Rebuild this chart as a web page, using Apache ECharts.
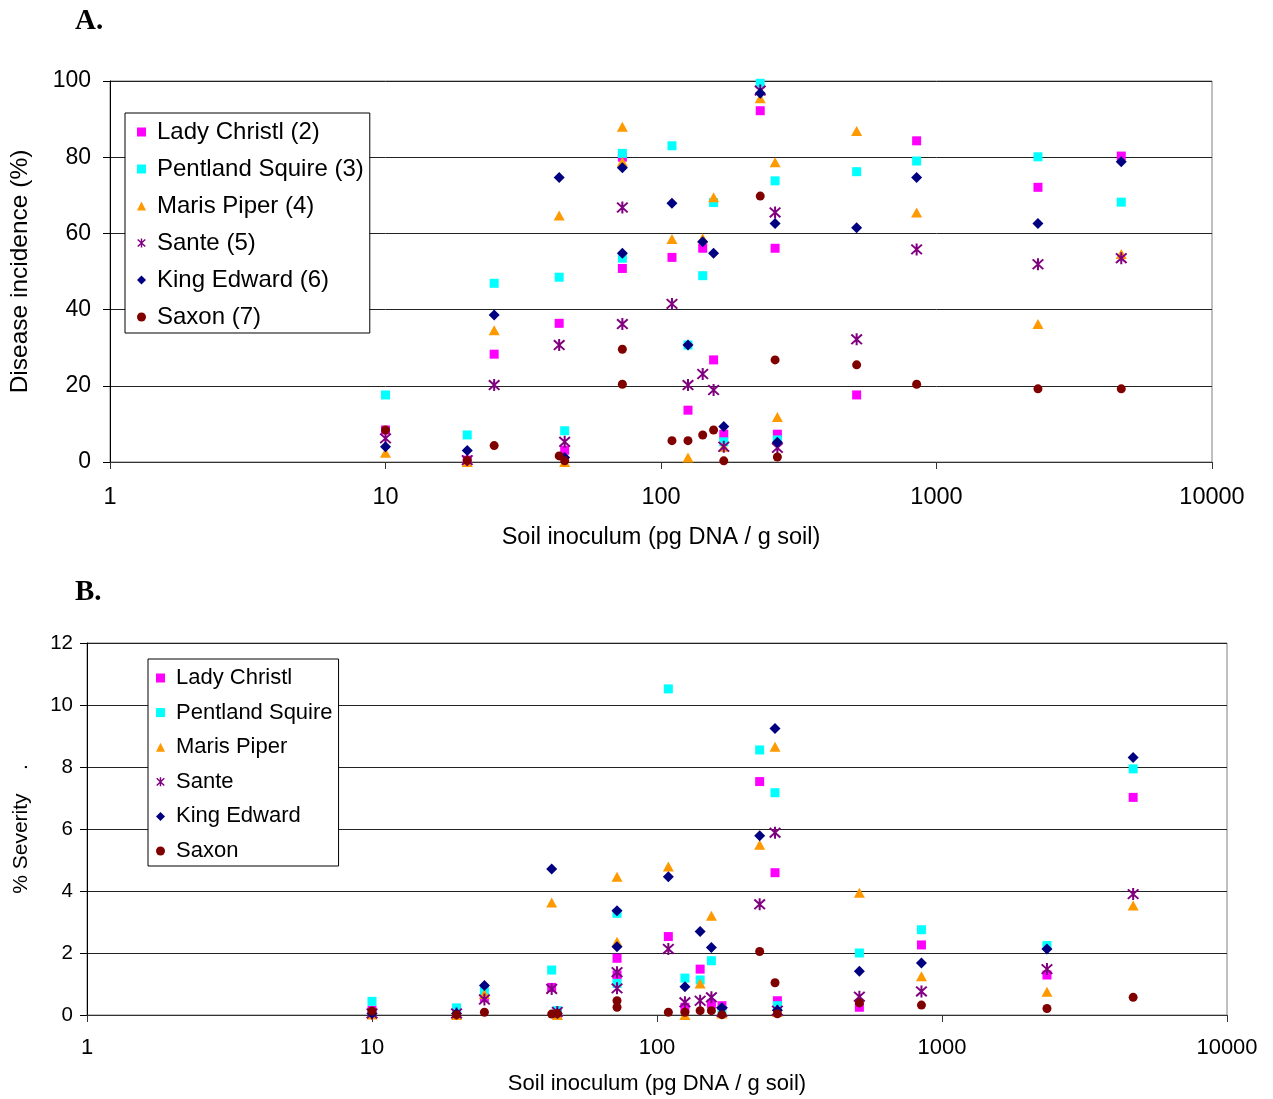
<!DOCTYPE html>
<html>
<head>
<meta charset="utf-8">
<script src="https://cdn.jsdelivr.net/npm/echarts@6/dist/echarts.min.js"></script>
<style>
  html, body { margin: 0; padding: 0; background: #fff; }
  #chart { width: 1273px; height: 1099px; }
</style>
</head>
<body>
<div id="chart"></div>
<script>
// Soil inoculum at each field site (pg DNA / g soil); two sites share 72.4
const inoculum = [10, 19.8, 24.8, 42.7, 44.7, 72.4, 72.4, 109.6, 125.3, 141.7, 155.2, 169, 229.2, 259.5, 264.5, 513, 847, 2335, 4685];

const cultivars = ['Lady Christl', 'Pentland Squire', 'Maris Piper', 'Sante', 'King Edward', 'Saxon'];
const cultivarCodes = [2, 3, 4, 5, 6, 7];

// Disease incidence (%) per site
const incidenceLadyChristl    = [8.4, 0.5, 28.3, 36.4, 3.1, 80.0, 50.8, 53.7, 13.6, 56.1, 26.8, 7.3, 92.2, 56.1, 7.3, 17.6, 84.3, 72.1, 80.3];
const incidencePentlandSquire = [17.6, 7.1, 46.9, 48.5, 8.2, 81.0, 53.5, 83.0, 30.7, 48.9, 68.1, 5.3, 99.4, 73.8, 5.8, 76.2, 79.0, 80.1, 68.2];
const incidenceMarisPiper     = [2.4, 0, 34.6, 64.7, 0, 88.0, 78.8, 58.5, 1.2, 58.7, 69.5, 4.0, 95.5, 78.7, 11.8, 86.9, 65.5, 36.2, 54.6];
const incidenceSante          = [6.2, 0.5, 20.2, 30.7, 5.3, 66.8, 36.2, 41.5, 20.2, 23.1, 18.9, 4.0, 97.5, 65.5, 3.7, 32.2, 55.8, 51.9, 53.5];
const incidenceKingEdward     = [4.0, 3.0, 38.6, 74.7, 1.2, 77.2, 54.8, 67.9, 30.7, 57.8, 54.8, 9.3, 96.8, 62.6, 5.2, 61.5, 74.7, 62.6, 78.8];
const incidenceSaxon          = [8.4, 0.4, 4.3, 1.6, 0.3, 29.6, 20.4, 5.6, 5.6, 7.1, 8.4, 0.3, 69.8, 26.8, 1.3, 25.5, 20.4, 19.2, 19.2];

// % severity per site
const severityLadyChristl    = [0.15, 0.05, 0.57, 0.89, 0.05, 1.83, 1.29, 2.53, 0.25, 1.48, 0.35, 0.30, 7.53, 4.59, 0.46, 0.25, 2.26, 1.29, 7.02];
const severityPentlandSquire = [0.44, 0.23, 0.78, 1.45, 0.14, 3.28, 1.02, 10.52, 1.19, 1.13, 1.75, 0.15, 8.55, 7.17, 0.30, 2.00, 2.75, 2.24, 7.94];
const severityMarisPiper     = [0.02, 0, 0.68, 3.63, 0, 4.46, 2.36, 4.79, 0, 1.02, 3.20, 0.05, 5.49, 8.65, 0.10, 3.94, 1.25, 0.75, 3.53];
const severitySante          = [0.05, 0.05, 0.50, 0.84, 0.10, 1.38, 0.86, 2.13, 0.41, 0.46, 0.57, 0.10, 3.57, 5.88, 0.14, 0.59, 0.76, 1.48, 3.90];
const severityKingEdward     = [0.05, 0.05, 0.95, 4.71, 0.05, 3.36, 2.20, 4.46, 0.91, 2.69, 2.18, 0.23, 5.78, 9.24, 0.15, 1.41, 1.68, 2.13, 8.31];
const severitySaxon          = [0.13, 0.01, 0.09, 0.03, 0.05, 0.46, 0.25, 0.09, 0.09, 0.14, 0.14, 0.01, 2.05, 1.04, 0.04, 0.39, 0.32, 0.21, 0.57];

const xTicksLog = [1, 10, 100, 1000, 10000];
const yTicksIncidence = [0, 20, 40, 60, 80, 100];
const yTicksSeverity = [0, 2, 4, 6, 8, 10, 12];

const incidence = [incidenceLadyChristl, incidencePentlandSquire, incidenceMarisPiper, incidenceSante, incidenceKingEdward, incidenceSaxon];
const severity = [severityLadyChristl, severityPentlandSquire, severityMarisPiper, severitySante, severityKingEdward, severitySaxon];

// Asterisk: vertical bar crossed by two diagonals
const asterisk = 'path://M4.2 0 L5.8 0 L5.8 10 L4.2 10 Z ' +
  'M1.35 0.45 L9.75 8.45 L8.65 9.55 L0.25 1.55 Z ' +
  'M8.65 0.45 L9.75 1.55 L1.35 9.55 L0.25 8.45 Z';

const markers = [
  { symbol: 'rect', size: 9, color: '#FF00FF' },
  { symbol: 'rect', size: 9, color: '#00FFFF' },
  { symbol: 'triangle', size: [11, 10], color: '#FF9900' },
  { symbol: asterisk, size: 12, color: '#800080' },
  { symbol: 'diamond', size: 11, color: '#000080' },
  { symbol: 'circle', size: 9, color: '#800000' }
];

const FONT = 'Liberation Sans';

function pairs(values) {
  return inoculum.map((x, i) => [x, values[i]]);
}

const namesA = cultivars.map((c, i) => c + ' (' + cultivarCodes[i] + ')');
const namesB = cultivars.slice();

const series = [];
cultivars.forEach((c, i) => {
  const m = markers[i];
  series.push({
    name: namesA[i], type: 'scatter', xAxisIndex: 0, yAxisIndex: 0,
    symbol: m.symbol, symbolSize: m.size, itemStyle: { color: m.color, opacity: 1 },
    data: pairs(incidence[i]), z: 2 + i
  });
});
cultivars.forEach((c, i) => {
  const m = markers[i];
  series.push({
    name: namesB[i], type: 'scatter', xAxisIndex: 1, yAxisIndex: 1,
    symbol: m.symbol, symbolSize: m.size, itemStyle: { color: m.color, opacity: 1 },
    data: pairs(severity[i]), z: 2 + i
  });
});

function xAxis(gridIndex, fontSize, margin, nameSize, nameGap) {
  return {
    type: 'log', logBase: 10, gridIndex,
    min: xTicksLog[0], max: xTicksLog[xTicksLog.length - 1],
    name: 'Soil inoculum (pg DNA / g soil)', nameLocation: 'middle', nameGap,
    nameTextStyle: { fontFamily: FONT, fontSize: nameSize, color: '#000' },
    axisLine: { show: true, onZero: false, lineStyle: { color: '#333', width: 1 } },
    axisTick: { show: true, inside: false, length: 7, lineStyle: { color: '#333' } },
    axisLabel: {
      fontFamily: FONT, fontSize, color: '#000', margin,
      formatter: v => String(Math.round(v))
    },
    splitLine: { show: false }, minorTick: { show: false }, minorSplitLine: { show: false }
  };
}

function yAxis(gridIndex, ticks, name, fontSize, margin, nameGap, nameSize) {
  return {
    type: 'value', gridIndex,
    min: ticks[0], max: ticks[ticks.length - 1], interval: ticks[1] - ticks[0],
    name, nameLocation: 'middle', nameGap,
    nameTextStyle: { fontFamily: FONT, fontSize: nameSize, color: '#000' },
    axisLine: { show: true, onZero: false, lineStyle: { color: '#000', width: 1 } },
    axisTick: { show: true, inside: false, length: 7, lineStyle: { color: '#000' } },
    axisLabel: { fontFamily: FONT, fontSize, color: '#000', margin },
    splitLine: { show: true, lineStyle: { color: '#222', width: 1 } }
  };
}

function legend(names, left, top, fontSize, lineHeight, gap, padding) {
  return {
    data: names, orient: 'vertical', left, top,
    itemWidth: 9, itemHeight: 9, itemGap: gap,
    padding, borderColor: '#000', borderWidth: 1, backgroundColor: '#fff',
    selectedMode: false,
    textStyle: { fontFamily: FONT, fontSize, color: '#000', lineHeight, padding: [0, 0, 0, 6] }
  };
}

const chart = echarts.init(document.getElementById('chart'), null, { renderer: 'canvas' });
chart.setOption({
  animation: false,
  backgroundColor: '#fff',
  title: [
    { text: 'A.', left: 75, top: 7, padding: 0,
      textStyle: { fontFamily: 'Liberation Serif', fontWeight: 'bold', fontSize: 29, color: '#000' } },
    { text: 'B.', left: 75, top: 578, padding: 0,
      textStyle: { fontFamily: 'Liberation Serif', fontWeight: 'bold', fontSize: 29, color: '#000' } }
  ],
  grid: [
    { left: 110, top: 81, width: 1102, height: 381, show: true, borderColor: '#808080', borderWidth: 1,
      backgroundColor: 'transparent', containLabel: false, outerBoundsMode: 'none' },
    { left: 87, top: 643, width: 1140, height: 372, show: true, borderColor: '#808080', borderWidth: 1,
      backgroundColor: 'transparent', containLabel: false, outerBoundsMode: 'none' }
  ],
  xAxis: [xAxis(0, 23.5, 24, 23.5, 64), xAxis(1, 22, 22, 22, 58)],
  yAxis: [
    yAxis(0, yTicksIncidence, 'Disease incidence (%)', 23, 19, 77, 24.5),
    yAxis(1, yTicksSeverity, '% Severity    .', 20.5, 14, 55, 21)
  ],
  legend: [
    legend(namesA, 125, 113, 24, 26, 11, [6, 6, 3, 12]),
    legend(namesB, 148, 659, 22, 24, 10.6, [7, 6, 3, 8])
  ],
  tooltip: { show: false },
  series
});
</script>
</body>
</html>
